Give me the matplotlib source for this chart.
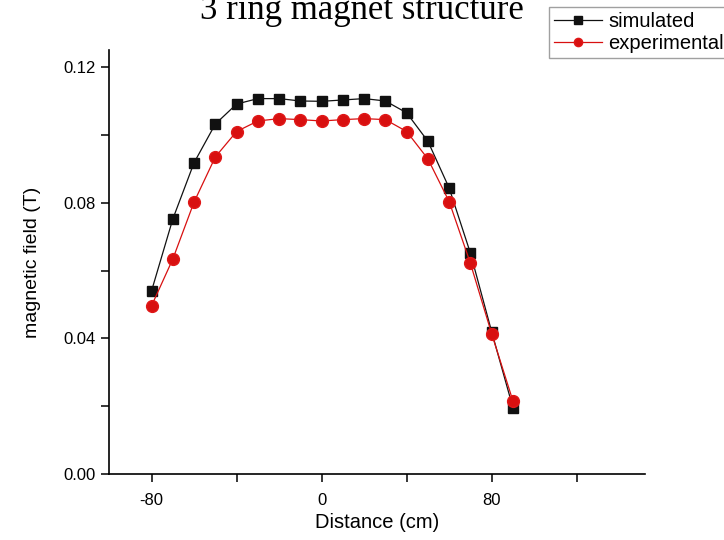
import matplotlib.pyplot as plt
import numpy as np

# distance along the axis (cm)
distance = [-80, -70, -60, -50, -40, -30, -20, -10, 0, 10, 20, 30, 40, 50, 60, 70, 80, 90]

simulated = [0.0540, 0.0752, 0.0918, 0.1032, 0.1091, 0.1107, 0.1107, 0.1100, 0.1099,
             0.1103, 0.1107, 0.1100, 0.1065, 0.0981, 0.0843, 0.0651, 0.0419, 0.0195]
experimental = [0.0496, 0.0634, 0.0802, 0.0935, 0.1010, 0.1041, 0.1048, 0.1045, 0.1041,
                0.1045, 0.1048, 0.1045, 0.1010, 0.0929, 0.0803, 0.0621, 0.0413, 0.0215]

plt.rcParams['font.family'] = ['Liberation Sans', 'DejaVu Sans']
plt.rcParams['axes.unicode_minus'] = False

fig = plt.figure(figsize=(7.24, 5.4), dpi=100)
ax = fig.add_axes([0.1506, 0.1222, 0.740, 0.785])

ax.plot(distance, simulated, color="#111111", lw=0.9, marker="s", ms=7.5, label="simulated")
ax.plot(distance, experimental, color="#d81010", lw=0.9, marker="o", ms=8.5,
        markeredgecolor="#e01818", label="experimental")

ax.set_xlim(-100, 152)
ax.set_ylim(0, 0.125)
ax.set_xticks([-80, 0, 80])
ax.set_xticks([-40, 40, 120], minor=True)
ax.set_yticks([0.00, 0.04, 0.08, 0.12])
ax.set_yticks([0.02, 0.06, 0.10], minor=True)
ax.yaxis.set_major_formatter(plt.FormatStrFormatter("%.2f"))

for s in ["top", "right"]:
    ax.spines[s].set_visible(False)
ax.spines["left"].set_linewidth(1.2)
ax.spines["bottom"].set_linewidth(1.2)
ax.tick_params(which="both", direction="out", length=6, width=1.1, labelsize=12)
ax.tick_params(axis="x", pad=8)

ax.set_xlabel("Distance (cm)", fontsize=14.5, labelpad=3)
ax.set_ylabel("magnetic field (T)", fontsize=14, labelpad=16)

fig.text(0.5, 1 - 19 / 540, "3 ring magnet structure", ha="center", va="baseline",
         fontsize=25, family="Liberation Serif")

leg = fig.legend(loc="upper left", bbox_to_anchor=(549 / 724, 1 - 7 / 540), fontsize=14.5,
                 frameon=True, fancybox=False, edgecolor="#888888", borderpad=0.25,
                 handlelength=2.4, handletextpad=0.3, labelspacing=0.15, borderaxespad=0,
                 markerscale=0.7)
leg.get_frame().set_linewidth(1.0)

fig.savefig("out.png", dpi=100)
